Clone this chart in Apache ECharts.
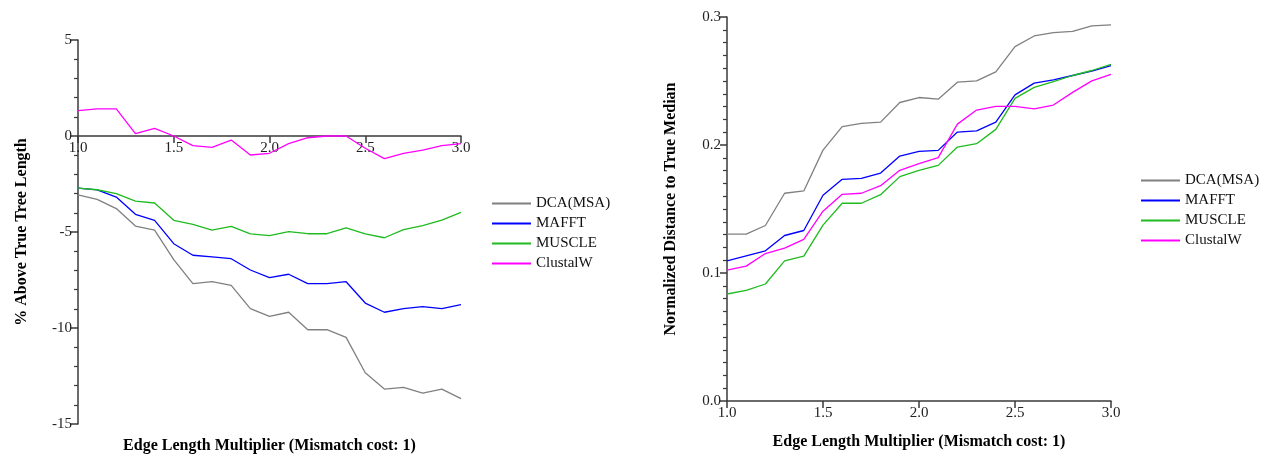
<!DOCTYPE html>
<html>
<head>
<meta charset="utf-8">
<script src="https://cdn.jsdelivr.net/npm/echarts@6/dist/echarts.min.js"></script>
<style>html,body{margin:0;padding:0;background:#fff}#c{width:1272px;height:455px}</style>
</head>
<body>
<div id="c"></div>
<script>
const xValues = [1.0,1.1,1.2,1.3,1.4,1.5,1.6,1.7,1.8,1.9,2.0,2.1,2.2,2.3,2.4,2.5,2.6,2.7,2.8,2.9,3.0];
const seriesNames = ['DCA(MSA)','MAFFT','MUSCLE','ClustalW'];
const seriesColors = ['#808080','#0000ff','#1fbb1f','#ff00ff'];

// Left chart: % Above True Tree Length
const leftDCA = [-3.07,-3.30,-3.78,-4.69,-4.90,-6.44,-7.69,-7.59,-7.78,-8.99,-9.39,-9.18,-10.09,-10.09,-10.49,-12.33,-13.18,-13.09,-13.39,-13.18,-13.68];
const leftMAFFT = [-2.71,-2.81,-3.18,-4.08,-4.39,-5.61,-6.21,-6.30,-6.39,-6.98,-7.38,-7.20,-7.69,-7.69,-7.59,-8.70,-9.18,-8.99,-8.89,-8.99,-8.78];
const leftMUSCLE = [-2.71,-2.80,-3.00,-3.39,-3.49,-4.39,-4.60,-4.90,-4.71,-5.10,-5.19,-4.98,-5.09,-5.09,-4.79,-5.10,-5.30,-4.88,-4.67,-4.38,-3.98];
const leftClustalW = [1.32,1.41,1.41,0.12,0.40,0.0,-0.50,-0.59,-0.21,-0.99,-0.90,-0.40,-0.09,0.0,0.0,-0.64,-1.18,-0.90,-0.73,-0.50,-0.40];

// Right chart: Normalized Distance to True Median
const rightDCA = [0.1303,0.1303,0.1371,0.1623,0.1641,0.1960,0.2143,0.2169,0.2179,0.2332,0.2371,0.2358,0.2491,0.2501,0.2571,0.2769,0.2852,0.2878,0.2888,0.2930,0.2938];
const rightMAFFT = [0.1095,0.1134,0.1173,0.1293,0.1332,0.1607,0.1732,0.1740,0.1781,0.1914,0.1950,0.1958,0.2101,0.2111,0.2179,0.2392,0.2483,0.2509,0.2543,0.2577,0.2621];
const rightMUSCLE = [0.0836,0.0864,0.0914,0.1095,0.1132,0.1374,0.1545,0.1545,0.1612,0.1753,0.1802,0.1841,0.1984,0.2010,0.2122,0.2364,0.2450,0.2496,0.2543,0.2582,0.2629];
const rightClustalW = [0.1023,0.1054,0.1152,0.1194,0.1262,0.1483,0.1615,0.1623,0.1682,0.1802,0.1854,0.1901,0.2163,0.2273,0.2301,0.2301,0.2283,0.2312,0.2411,0.2501,0.2551];

const leftYTicks = {min:-15, max:5, interval:5};
const rightYTicks = {min:0, max:0.3, interval:0.1};
const xTicks = {min:1, max:3, interval:0.5};

const FONT = 'Liberation Serif';
const axisColor = '#3a3a3a';
const leftData = [leftDCA, leftMAFFT, leftMUSCLE, leftClustalW];
const rightData = [rightDCA, rightMAFFT, rightMUSCLE, rightClustalW];

const leftGrid = {left:78, right:1272-461, top:40, bottom:455-424};
const rightGrid = {left:727, right:1272-1111, top:17, bottom:455-401};
const leftGridH = 455 - leftGrid.top - leftGrid.bottom;
// place the left x axis on the zero line (through the y scale)
const leftZeroOffset = -leftGridH * (0 - leftYTicks.min) / (leftYTicks.max - leftYTicks.min);

function pairs(arr){ return xValues.map((x,i)=>[x,arr[i]]); }

function xAxisCfg(gridIndex, nameGap, offset){
  return {
    type:'value', gridIndex, min:xTicks.min, max:xTicks.max, interval:xTicks.interval,
    offset,
    name:'Edge Length Multiplier (Mismatch cost: 1)', nameLocation:'middle', nameGap,
    nameTextStyle:{fontFamily:FONT, fontWeight:'bold', fontSize:16, color:'#000'},
    axisLine:{onZero:false, lineStyle:{color:axisColor, width:1.5}},
    axisTick:{show:true, length:7, lineStyle:{color:axisColor, width:1.5}},
    axisLabel:{fontFamily:FONT, fontSize:15, color:'#222', margin:5, formatter:v=>v.toFixed(1)},
    splitLine:{show:false}
  };
}
function yAxisCfg(gridIndex, t, name, nameGap, fmt, minorSplit){
  return {
    type:'value', gridIndex, min:t.min, max:t.max, interval:t.interval,
    name, nameLocation:'middle', nameGap,
    nameTextStyle:{fontFamily:FONT, fontWeight:'bold', fontSize:16, color:'#000'},
    axisLine:{show:true, onZero:false, lineStyle:{color:axisColor, width:1.5}},
    axisTick:{show:true, length:7, lineStyle:{color:axisColor, width:1.5}},
    minorTick:{show:true, splitNumber:minorSplit, length:4, lineStyle:{color:axisColor, width:1.2}},
    axisLabel:{fontFamily:FONT, fontSize:15, color:'#222', margin:6, formatter:fmt},
    splitLine:{show:false}
  };
}

const series = [];
seriesNames.forEach((n,i)=>{
  series.push({name:n, type:'line', xAxisIndex:0, yAxisIndex:0, data:pairs(leftData[i]),
    symbol:'none', lineStyle:{color:seriesColors[i], width:1.3}, itemStyle:{color:seriesColors[i]}, animation:false});
});
seriesNames.forEach((n,i)=>{
  series.push({name:n, type:'line', xAxisIndex:1, yAxisIndex:1, data:pairs(rightData[i]),
    symbol:'none', lineStyle:{color:seriesColors[i], width:1.3}, itemStyle:{color:seriesColors[i]}, animation:false});
});

function legendCfg(left, top){
  return {
    data:seriesNames, orient:'vertical', left, top, itemWidth:39, itemHeight:14, itemGap:5,
    selectedMode:false, itemStyle:{opacity:0},
    textStyle:{fontFamily:FONT, fontSize:15, color:'#111'}
  };
}

const chart = echarts.init(document.getElementById('c'), null, {renderer:'canvas'});
chart.setOption({
  backgroundColor:'#fff',
  animation:false,
  grid:[
    Object.assign({outerBoundsMode:'none', containLabel:false}, leftGrid),
    Object.assign({outerBoundsMode:'none', containLabel:false}, rightGrid)
  ],
  legend:[legendCfg(486,191), legendCfg(1135,168)],
  xAxis:[xAxisCfg(0, 302, leftZeroOffset), xAxisCfg(1, 33, 0)],
  yAxis:[
    yAxisCfg(0, leftYTicks, '% Above True Tree Length', 48, v=>String(v), 5),
    yAxisCfg(1, rightYTicks, 'Normalized Distance to True Median', 48, v=>v.toFixed(1), 10)
  ],
  series
});
</script>
</body>
</html>
